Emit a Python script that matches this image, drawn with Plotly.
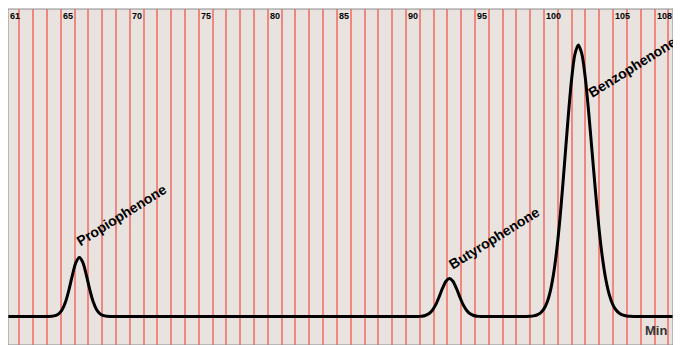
import plotly.graph_objects as go

# ---- data (time in minutes, detector signal in arbitrary units) ----
retention_min = [
    61.18, 63.0, 64.1, 64.35, 64.6, 64.85, 65.1, 65.35, 65.6, 65.85,
    66.1, 66.35, 66.6, 66.85, 67.1, 67.35, 67.6, 67.85, 68.1, 68.35,
    68.6, 70.0, 80.0, 90.4, 90.65, 90.9, 91.15, 91.4, 91.65, 91.9,
    92.15, 92.4, 92.65, 92.9, 93.15, 93.4, 93.65, 93.9, 94.15, 94.4,
    94.65, 94.9, 95.15, 95.4, 95.65, 97.0, 98.48, 98.73, 98.98, 99.23,
    99.48, 99.73, 99.98, 100.23, 100.48, 100.73, 100.98, 101.23, 101.48, 101.73,
    101.98, 102.23, 102.48, 102.73, 102.98, 103.23, 103.48, 103.73, 103.98, 104.23,
    104.48, 104.73, 104.98, 105.23, 105.48, 105.73, 105.98, 106.23, 106.48, 107.5,
    109.34,
]
signal = [
    0, 0, 0, 0.2, 0.8, 2.6, 6.7, 14.7, 27.0, 41.7,
    54.1, 59.0, 54.1, 41.7, 27.0, 14.7, 6.7, 2.6, 0.8, 0.2,
    0, 0, 0, 0, 0, 0.1, 0.3, 1.0, 2.7, 6.0,
    11.6, 19.5, 28.3, 35.3, 38.0, 35.3, 28.3, 19.5, 11.6, 6.0,
    2.7, 1.0, 0.3, 0.1, 0, 0, 0, 0, 0.2, 0.6,
    1.5, 3.4, 7.3, 14.5, 26.9, 46.2, 73.9, 110.0, 152.3, 196.1,
    235.0, 261.9, 271.5, 263.1, 239.6, 204.9, 164.7, 124.3, 88.1, 58.7,
    36.7, 21.6, 11.9, 6.2, 3.0, 1.4, 0.6, 0.2, 0, 0,
    0,
]

peak_names = ["Propiophenone", "Butyrophenone", "Benzophenone"]
peak_times = [66.35, 93.15, 102.48]
peak_heights = [59.0, 38.0, 271.5]

tick_labels = [61, 65, 70, 75, 80, 85, 90, 95, 100, 105, 108]
axis_unit = "Min"

X_RANGE = [61.18, 109.34]
Y_RANGE = [-28.5, 307.5]
FONT = "Liberation Sans, Arial, sans-serif"

fig = go.Figure()
fig.add_trace(go.Scatter(
    x=retention_min, y=signal, mode="lines",
    line=dict(color="black", width=3, shape="spline", smoothing=0.8),
    hoverinfo="skip", showlegend=False,
))

annotations = []
# minute labels along the top, just right of their grid line
for t in tick_labels:
    if t < X_RANGE[0]:
        ax = dict(x=0, xref="paper")
    else:
        ax = dict(x=t, xref="x")
    annotations.append(dict(
        **ax, y=1, yref="paper", text=f"<b>{t}</b>", showarrow=False,
        xanchor="left", yanchor="middle", yshift=-7,
        font=dict(family=FONT, size=9, color="black"),
    ))

# peak names, rotated, placed relative to each apex
label_shift = [(42, 42.5), (44.5, 41), (54, -22)]
for name, t, h, (dx, dy) in zip(peak_names, peak_times, peak_heights, label_shift):
    annotations.append(dict(
        x=t, y=h, xref="x", yref="y", text=f"<b>{name}</b>", showarrow=False,
        textangle=-32, xanchor="center", yanchor="middle", xshift=dx, yshift=dy,
        font=dict(family=FONT, size=14, color="black"),
    ))

annotations.append(dict(
    x=1, xref="paper", y=0, yref="y", text=f"<b>{axis_unit}</b>", showarrow=False,
    xanchor="right", yanchor="middle", xshift=-4, yshift=-13.5,
    font=dict(family=FONT, size=13, color="#333333"),
))

# the page body adds an 8px offset, so the figure is sized to end at the window edge
fig.update_layout(
    width=673, height=337,
    margin=dict(l=0, r=8, t=1, b=0),
    paper_bgcolor="white",
    plot_bgcolor="#e8e3df",
    annotations=annotations,
    shapes=[dict(type="rect", xref="paper", yref="paper", x0=0, y0=0, x1=1, y1=1,
                 line=dict(color="#8c8c8c", width=1), layer="above")],
    xaxis=dict(range=X_RANGE, showgrid=True, gridcolor="#f08880", gridwidth=1.5,
               dtick=1, tick0=0, showticklabels=False, ticks="", zeroline=False,
               showline=False, fixedrange=True),
    yaxis=dict(range=Y_RANGE, showgrid=False, showticklabels=False, ticks="",
               zeroline=False, showline=False, fixedrange=True),
)

fig.write_html("out.html")
